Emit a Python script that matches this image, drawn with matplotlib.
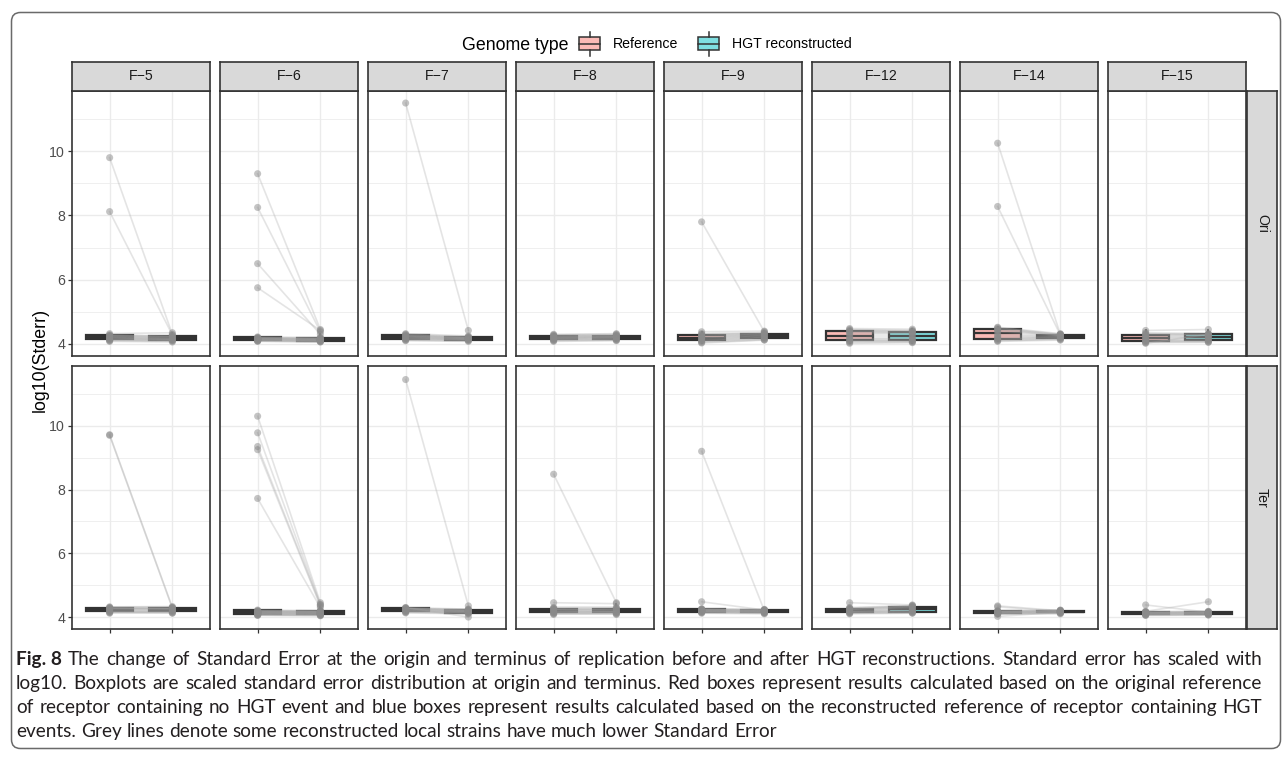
import matplotlib
matplotlib.use('Agg')
import matplotlib.pyplot as plt
import numpy as np
from matplotlib.patches import FancyBboxPatch, Rectangle

plt.rcParams['font.family'] = ['Liberation Sans', 'DejaVu Sans']

# ---------------------------------------------------------------
# data: log10(Stderr) per strain, paired Reference -> HGT reconstructed
# (list i of *_REF pairs element-wise with list i of *_HGT)
# ---------------------------------------------------------------
FACETS = ["F\u22125", "F\u22126", "F\u22127", "F\u22128", "F\u22129", "F\u221212", "F\u221214", "F\u221215"]
ROWS = ["Ori", "Ter"]
GENOME_TYPES = ["Reference", "HGT reconstructed"]

ORI_REF = [
    [9.80, 8.12, 4.32, 4.28, 4.27, 4.25, 4.24, 4.22, 4.20, 4.19, 4.17, 4.15, 4.13, 4.12, 4.10, 4.08],
    [9.30, 8.25, 6.50, 5.75, 4.22, 4.20, 4.19, 4.18, 4.17, 4.16, 4.15, 4.14, 4.13, 4.12, 4.11, 4.10, 4.09, 4.08],
    [11.50, 4.32, 4.30, 4.28, 4.26, 4.25, 4.23, 4.22, 4.20, 4.18, 4.17, 4.15, 4.13, 4.12, 4.10],
    [4.30, 4.28, 4.26, 4.25, 4.23, 4.22, 4.20, 4.19, 4.18, 4.16, 4.15, 4.13, 4.12, 4.10, 4.08],
    [7.80, 4.38, 4.32, 4.30, 4.27, 4.25, 4.22, 4.20, 4.18, 4.15, 4.12, 4.10, 4.08, 4.05, 4.03],
    [4.48, 4.45, 4.42, 4.40, 4.38, 4.35, 4.30, 4.25, 4.20, 4.15, 4.12, 4.10, 4.08, 4.05, 4.02],
    [10.25, 8.28, 4.52, 4.50, 4.47, 4.45, 4.42, 4.38, 4.30, 4.25, 4.20, 4.17, 4.15, 4.12, 4.10, 4.08],
    [4.42, 4.35, 4.32, 4.30, 4.28, 4.25, 4.22, 4.18, 4.15, 4.12, 4.10, 4.08, 4.06, 4.04, 4.02],
]
ORI_HGT = [
    [4.30, 4.28, 4.35, 4.25, 4.24, 4.22, 4.20, 4.18, 4.17, 4.15, 4.14, 4.13, 4.12, 4.10, 4.09, 4.06],
    [4.45, 4.38, 4.30, 4.42, 4.20, 4.18, 4.17, 4.16, 4.15, 4.14, 4.13, 4.12, 4.11, 4.10, 4.09, 4.08, 4.07, 4.06],
    [4.42, 4.25, 4.22, 4.21, 4.20, 4.19, 4.18, 4.17, 4.16, 4.15, 4.14, 4.13, 4.12, 4.10, 4.08],
    [4.32, 4.30, 4.28, 4.26, 4.25, 4.24, 4.22, 4.21, 4.20, 4.18, 4.17, 4.15, 4.13, 4.12, 4.10],
    [4.38, 4.40, 4.35, 4.33, 4.32, 4.30, 4.28, 4.26, 4.24, 4.22, 4.20, 4.18, 4.15, 4.13, 4.12],
    [4.46, 4.42, 4.40, 4.38, 4.36, 4.34, 4.30, 4.25, 4.20, 4.15, 4.12, 4.10, 4.08, 4.06, 4.04],
    [4.30, 4.28, 4.32, 4.30, 4.29, 4.28, 4.27, 4.26, 4.25, 4.23, 4.22, 4.20, 4.18, 4.16, 4.14, 4.12],
    [4.45, 4.32, 4.30, 4.29, 4.28, 4.25, 4.22, 4.20, 4.15, 4.12, 4.10, 4.08, 4.06, 4.05, 4.30],
]
TER_REF = [
    [9.72, 9.70, 4.32, 4.30, 4.29, 4.28, 4.27, 4.25, 4.24, 4.22, 4.20, 4.18, 4.17, 4.15, 4.14, 4.12],
    [10.30, 9.78, 9.35, 9.25, 7.72, 4.22, 4.20, 4.19, 4.18, 4.17, 4.16, 4.15, 4.14, 4.13, 4.12, 4.11,
     4.10, 4.09, 4.08, 4.07, 4.06, 4.05],
    [11.45, 4.30, 4.29, 4.28, 4.27, 4.26, 4.25, 4.23, 4.22, 4.20, 4.19, 4.18, 4.16, 4.15, 4.13],
    [8.48, 4.45, 4.30, 4.28, 4.26, 4.25, 4.24, 4.22, 4.20, 4.18, 4.16, 4.15, 4.13, 4.12, 4.10, 4.08],
    [9.20, 4.48, 4.26, 4.25, 4.24, 4.23, 4.22, 4.21, 4.20, 4.19, 4.18, 4.17, 4.16, 4.15, 4.14, 4.12],
    [4.45, 4.30, 4.28, 4.26, 4.25, 4.24, 4.22, 4.20, 4.18, 4.17, 4.16, 4.15, 4.13, 4.12, 4.10],
    [4.35, 4.32, 4.02, 4.20, 4.19, 4.18, 4.17, 4.16, 4.15, 4.14, 4.13, 4.12, 4.11, 4.10, 4.09],
    [4.38, 4.18, 4.17, 4.16, 4.15, 4.14, 4.13, 4.12, 4.11, 4.10, 4.09, 4.08, 4.07, 4.06, 4.05],
]
TER_HGT = [
    [4.30, 4.28, 4.33, 4.30, 4.28, 4.27, 4.26, 4.25, 4.24, 4.22, 4.20, 4.18, 4.17, 4.15, 4.13, 4.12],
    [4.45, 4.40, 4.38, 4.35, 4.30, 4.20, 4.19, 4.18, 4.17, 4.16, 4.15, 4.14, 4.13, 4.12, 4.11, 4.10,
     4.09, 4.08, 4.07, 4.06, 4.05, 4.04],
    [4.35, 4.00, 4.25, 4.24, 4.22, 4.21, 4.20, 4.19, 4.18, 4.17, 4.16, 4.15, 4.13, 4.12, 4.10],
    [4.45, 4.42, 4.30, 4.28, 4.26, 4.24, 4.22, 4.20, 4.18, 4.17, 4.16, 4.15, 4.13, 4.12, 4.10, 4.08],
    [4.20, 4.22, 4.24, 4.23, 4.22, 4.21, 4.20, 4.19, 4.18, 4.17, 4.16, 4.15, 4.14, 4.13, 4.12, 4.10],
    [4.38, 4.36, 4.35, 4.34, 4.32, 4.30, 4.28, 4.25, 4.22, 4.20, 4.18, 4.16, 4.15, 4.13, 4.12],
    [4.20, 4.18, 4.15, 4.22, 4.21, 4.20, 4.19, 4.18, 4.17, 4.16, 4.15, 4.14, 4.13, 4.12, 4.10],
    [4.15, 4.48, 4.18, 4.17, 4.16, 4.15, 4.14, 4.13, 4.12, 4.11, 4.10, 4.09, 4.08, 4.07, 4.06],
]

CAPTION = [
    "The change of Standard Error at the origin and terminus of replication before and after HGT reconstructions. Standard error has scaled with",
    "log10. Boxplots are scaled standard error distribution at origin and terminus. Red boxes represent results calculated based on the original reference",
    "of receptor containing no HGT event and blue boxes represent results calculated based on the reconstructed reference of receptor containing HGT",
    "events. Grey lines denote some reconstructed local strains have much lower Standard Error",
]

# ---------------------------------------------------------------
# style
# ---------------------------------------------------------------
W, H = 1284, 760
FILLS = ['#FBBAB6', '#7FDFE1']
DARK = '#333333'
STRIP = '#D9D9D9'
GRID = '#EBEBEB'
SMALL = 10.2
BIG = 12.8

PANEL_X0, PANEL_STEP, PANEL_W = 72, 148, 138
ROW_Y = [(91, 356), (366, 629)]


def px(x0, y0, x1, y1):
    return [x0 / W, 1 - y1 / H, (x1 - x0) / W, (y1 - y0) / H]


all_vals = [v for grp in (ORI_REF, ORI_HGT, TER_REF, TER_HGT) for lst in grp for v in lst]
vmin, vmax = min(all_vals), max(all_vals)
YLIM = (vmin - 0.05 * (vmax - vmin), vmax + 0.05 * (vmax - vmin))

fig = plt.figure(figsize=(W / 100, H / 100), dpi=100)

data_rows = [(ORI_REF, ORI_HGT), (TER_REF, TER_HGT)]
for r, (refs, hgts) in enumerate(data_rows):
    ytop, ybot = ROW_Y[r]
    for c, name in enumerate(FACETS):
        x0 = PANEL_X0 + c * PANEL_STEP
        ax = fig.add_axes(px(x0, ytop, x0 + PANEL_W, ybot))
        ref, hgt = refs[c], hgts[c]

        bp = ax.boxplot([ref, hgt], positions=[1, 2], widths=0.75, patch_artist=True,
                        showfliers=False, showcaps=False, whis=1.5,
                        medianprops=dict(color=DARK, lw=1.6),
                        boxprops=dict(edgecolor=DARK, lw=1.6),
                        whiskerprops=dict(color=DARK, lw=1.3))
        for patch, col in zip(bp['boxes'], FILLS):
            patch.set_facecolor(col)
        for a, b in zip(ref, hgt):
            ax.plot([1, 2], [a, b], color='#a8a8a8', alpha=0.3, lw=1.2, zorder=4)
        ax.scatter([1] * len(ref) + [2] * len(hgt), ref + hgt, s=26, color='#8a8a8a',
                   alpha=0.5, edgecolors='none', zorder=5)

        ax.set_xlim(0.4, 2.6)
        ax.set_ylim(*YLIM)
        ax.set_xticks([1, 2])
        ax.set_xticklabels([])
        ax.set_yticks([4, 6, 8, 10])
        ax.set_yticks([5, 7, 9, 11], minor=True)
        ax.grid(which='major', color=GRID, lw=1.0)
        ax.grid(which='minor', axis='y', color=GRID, lw=0.55)
        ax.set_axisbelow(True)
        for sp in ax.spines.values():
            sp.set_color(DARK)
            sp.set_linewidth(1.2)
        ax.tick_params(which='minor', length=0)
        ax.tick_params(axis='both', which='major', length=3, width=0.9, color=DARK,
                       labelsize=SMALL, labelcolor='#4D4D4D', pad=2)
        if c == 0:
            ax.set_yticklabels(['4', '6', '8', '10'])
        else:
            ax.tick_params(axis='y', length=0, labelleft=False)
        if r == 0:
            ax.tick_params(axis='x', length=0)

        # top strip
        if r == 0:
            sax = fig.add_axes(px(x0, 62, x0 + PANEL_W, 91))
            sax.set_facecolor(STRIP)
            sax.set_xticks([]); sax.set_yticks([])
            for sp in sax.spines.values():
                sp.set_color(DARK); sp.set_linewidth(1.2)
            sax.text(0.5, 0.5, name, ha='center', va='center', fontsize=SMALL,
                     color='#1A1A1A', transform=sax.transAxes)

    # right strip
    rax = fig.add_axes(px(1247, ytop, 1277, ybot))
    rax.set_facecolor(STRIP)
    rax.set_xticks([]); rax.set_yticks([])
    for sp in rax.spines.values():
        sp.set_color(DARK); sp.set_linewidth(1.2)
    rax.text(0.5, 0.5, ROWS[r], ha='center', va='center', rotation=-90, fontsize=SMALL,
             color='#1A1A1A', transform=rax.transAxes)

# overlay in pixel coordinates: border, legend, axis title, caption
ov = fig.add_axes([0, 0, 1, 1])
ov.set_xlim(0, W)
ov.set_ylim(H, 0)
ov.axis('off')
ov.patch.set_alpha(0)

ov.add_patch(FancyBboxPatch((11.5, 12.5), 1269, 736, boxstyle='round,pad=0,rounding_size=9',
                            facecolor='none', edgecolor='#6a6a6a', lw=1.1))

ov.text(40, 360, 'log10(Stderr)', rotation=90, ha='center', va='center', fontsize=BIG, color='black')

ov.text(462, 49.5, 'Genome type', ha='left', va='baseline', fontsize=BIG)
for kx, tx, label, col in [(579, 613, GENOME_TYPES[0], FILLS[0]), (698, 732, GENOME_TYPES[1], FILLS[1])]:
    ov.add_patch(Rectangle((kx, 37), 21, 13, facecolor=col, edgecolor=DARK, lw=1.1))
    ov.plot([kx, kx + 21], [43.5, 43.5], color=DARK, lw=1.1)
    ov.plot([kx + 10.5, kx + 10.5], [31.5, 37], color=DARK, lw=1.1)
    ov.plot([kx + 10.5, kx + 10.5], [50, 55.5], color=DARK, lw=1.1)
    ov.text(tx, 48.5, label, ha='left', va='baseline', fontsize=SMALL)

# caption, justified to the text block width
renderer = fig.canvas.get_renderer()
CAP_X0, CAP_X1 = 16, 1262
CAP_Y = [665, 689, 713, 737]
CAP_FONT = dict(family=['Lato', 'DejaVu Sans'], fontsize=13.7, color='#231F20')


def text_width(s, weight='normal'):
    t = ov.text(0, 0, s, fontweight=weight, **CAP_FONT)
    w = t.get_window_extent(renderer).width
    t.remove()
    return w


space = text_width('a b') - text_width('ab')
for i, line in enumerate(CAPTION):
    tokens = [(w, 'normal') for w in line.split(' ')]
    if i == 0:
        tokens = [('Fig. 8', 'bold')] + tokens
    widths = [text_width(w, wt) for w, wt in tokens]
    if i < len(CAPTION) - 1:
        gap = (CAP_X1 - CAP_X0 - sum(widths)) / (len(tokens) - 1)
    else:
        gap = space
    x = CAP_X0
    for (w, wt), wd in zip(tokens, widths):
        ov.text(x, CAP_Y[i], w, ha='left', va='baseline', fontweight=wt, **CAP_FONT)
        x += wd + gap

fig.savefig('out.png', dpi=100)
